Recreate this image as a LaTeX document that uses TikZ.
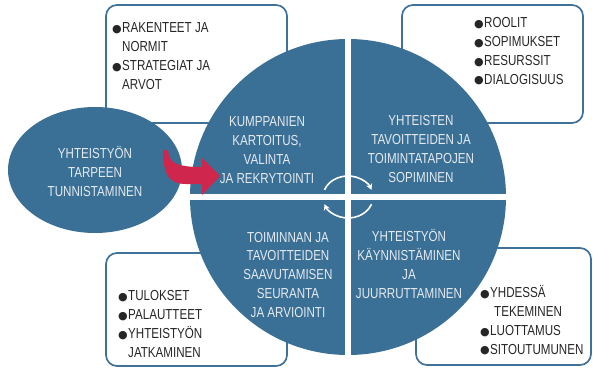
\documentclass[tikz,border=0pt]{standalone}
\usepackage{fontspec}
\setmainfont[FakeStretch=0.8]{Liberation Sans}
\newfontfamily\dotfont{DejaVu Sans}
\usetikzlibrary{arrows.meta}
\definecolor{cycleblue}{RGB}{58,112,150}
\definecolor{boxline}{RGB}{62,114,154}
\definecolor{pushred}{RGB}{206,38,76}
\definecolor{paletext}{RGB}{228,234,240}
\newcommand\bul{\makebox[10pt][l]{\raisebox{0.3pt}{\dotfont\fontsize{11}{11}\selectfont ●}}}
\newcommand\ind{\hspace*{10pt}}
\tikzset{
  infobox/.style={draw=boxline, line width=1.7pt, rounded corners=11pt},
  listtext/.style={anchor=base west, align=left, text=black!85, inner sep=0pt},
  phasetext/.style={anchor=base, align=center, text=paletext, inner sep=0pt},
  turnarrow/.style={white, line width=1.6pt, -{Stealth[length=6pt,width=6.5pt]}}
}
\begin{document}
\begin{tikzpicture}[x=1pt, y=-1pt, font=\fontsize{14.5}{18.7}\selectfont, line join=round]
	\def\cx{348} \def\cy{197} \def\r{158} % ympyra
	\useasboundingbox (0,0) rectangle (593,369);
	% laatikot (tekstit sijoitetaan viimeisen rivin mukaan)
	\draw[infobox] (106,5) rectangle (287,123);
	\draw[infobox] (402,5) rectangle (583,123);
	\draw[infobox] (106,253) rectangle (287,366);
	\draw[infobox] (416,248) rectangle (591,365);
	\node[listtext] (structures) at (112,89) {\bul RAKENTEET JA\\ \ind NORMIT\\ \bul STRATEGIAT JA\\ \ind ARVOT};
	\node[listtext] (roles) at (474,84) {\bul ROOLIT\\ \bul SOPIMUKSET\\ \bul RESURSSIT\\ \bul DIALOGISUUS};
	\node[listtext] (results) at (118,357) {\bul TULOKSET\\ \bul PALAUTTEET\\ \bul YHTEISTYÖN\\ \ind JATKAMINEN};
	\node[listtext] (trust) at (480,354) {\bul YHDESSÄ\\ \ind\hspace*{4pt}TEKEMINEN\\ \bul LUOTTAMUS\\ \bul SITOUTUMUNEN};
	% tarve
	\fill[cycleblue] (95,170) ellipse [x radius=87, y radius=63];
	\node[phasetext] (need) at (95,196) {YHTEISTYÖN\\TARPEEN\\TUNNISTAMINEN};
	% kehä
	\fill[cycleblue] (\cx,\cy) circle (\r);
	\draw[white, line width=5.5pt] (\cx,\cy-\r-2) -- (\cx,\cy+\r+2);
	\draw[white, line width=5.5pt] (\cx-\r-2,\cy) -- (\cx+\r+2,\cy);
	\node[phasetext] (partners) at (267,183) {KUMPPANIEN\\KARTOITUS,\\VALINTA\\JA REKRYTOINTI};
	\node[phasetext] (goals) at (421,182) {YHTEISTEN\\TAVOITTEIDEN JA\\TOIMINTATAPOJEN\\SOPIMINEN};
	\node[phasetext] (launch) at (409,298) {YHTEISTYÖN\\KÄYNNISTÄMINEN\\JA\\JUURRUTTAMINEN};
	\node[phasetext] (review) at (288,317) {TOIMINNAN JA\\TAVOITTEIDEN\\SAAVUTAMISEN\\SEURANTA\\JA ARVIOINTI};
	\draw[turnarrow] (\cx,\cy) ++(200:25 and 21) arc [start angle=200, end angle=340, x radius=25, y radius=21];
	\draw[turnarrow] (\cx,\cy) ++(20:25 and 21) arc [start angle=20, end angle=160, x radius=25, y radius=21];
	% nuoli
	\fill[pushred] (163,150) -- (168,150) .. controls (169,163) and (176,167) .. (202,167)
		-- (202,158) -- (220,176) -- (202,195) -- (202,184) -- (186,184)
		.. controls (170,184) and (163,176) .. (163,150) -- cycle;
\end{tikzpicture}
\end{document}
